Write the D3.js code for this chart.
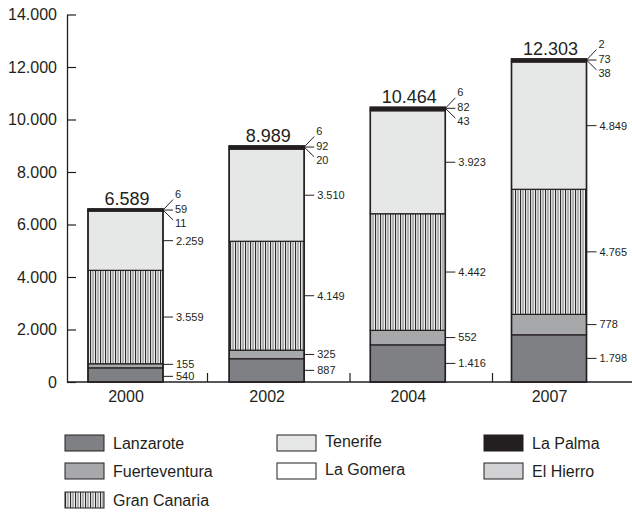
<!DOCTYPE html>
<html>
<head>
<meta charset="utf-8">
<script src="https://cdn.jsdelivr.net/npm/d3@7/dist/d3.min.js"></script>
<style>
  html, body { margin: 0; padding: 0; background: #fff; }
  svg { display: block; font-family: "Liberation Sans", Arial, Helvetica, sans-serif; }
</style>
</head>
<body>
<svg id="chart" width="632" height="514"></svg>
<script>
// Visitors per island and year (stacked from the bottom up)
const years = ["2000", "2002", "2004", "2007"];
const islands = ["Lanzarote", "Fuerteventura", "Gran Canaria", "Tenerife", "La Gomera", "La Palma", "El Hierro"];
const lanzarote     = [540, 887, 1416, 1798];
const fuerteventura = [155, 325, 552, 778];
const granCanaria   = [3559, 4149, 4442, 4765];
const tenerife      = [2259, 3510, 3923, 4849];
const laGomera      = [11, 20, 43, 38];
const laPalma       = [59, 92, 82, 73];
const elHierro      = [6, 6, 6, 2];
const yTicks = [0, 2000, 4000, 6000, 8000, 10000, 12000, 14000];

const seriesValues = [lanzarote, fuerteventura, granCanaria, tenerife, laGomera, laPalma, elHierro];
const fills = ["#7f8083", "#a7a8aa", "url(#stripes)", "#e6e7e7", "#ffffff", "#231f20", "#d1d2d3"];
const ink = "#231f20";

const fmt = v => d3.format(",")(v).replace(/,/g, ".");

const rows = years.map((yr, i) => {
  const r = { year: yr };
  islands.forEach((isl, k) => r[isl] = seriesValues[k][i]);
  return r;
});
const stacked = d3.stack().keys(islands)(rows);

const svg = d3.select("#chart");

// vertical hatching for Gran Canaria
const defs = svg.append("defs");
const pat = defs.append("pattern").attr("id", "stripes")
  .attr("patternUnits", "userSpaceOnUse").attr("width", 5).attr("height", 10);
pat.append("rect").attr("width", 5).attr("height", 10).attr("fill", "#eeeeee");
pat.append("rect").attr("x", 0).attr("width", 1.1).attr("height", 10).attr("fill", "#2a2a2a");
pat.append("rect").attr("x", 2).attr("width", 2).attr("height", 10).attr("fill", "#b3b3b3");

const y = d3.scaleLinear().domain([0, 14000]).range([382, 14.5]);
const xC = d3.scalePoint().domain(years).range([125.5, 549]);   // bar centres
const xSep = d3.scaleBand().domain(years).range([65, 635]);      // category slots
const barW = 75;
const axisX = 67;

// y axis
const yAxis = svg.append("g").attr("transform", `translate(${axisX},0)`)
  .call(d3.axisLeft(y).tickValues(yTicks).tickFormat(fmt).tickSizeInner(-9).tickSizeOuter(0).tickPadding(10));
yAxis.select(".domain").attr("stroke", ink).attr("stroke-width", 1.3);
yAxis.selectAll(".tick line").attr("stroke", ink).attr("stroke-width", 1.2);
yAxis.selectAll(".tick text").attr("font-size", 16).attr("fill", ink)
  .attr("font-family", "'Liberation Sans', Arial, sans-serif");

// baseline and slot separators
svg.append("line").attr("x1", axisX).attr("x2", 632).attr("y1", y(0)).attr("y2", y(0))
  .attr("stroke", ink).attr("stroke-width", 1.3);
svg.selectAll("line.sep").data(years.slice(1)).join("line").attr("class", "sep")
  .attr("x1", d => xSep(d)).attr("x2", d => xSep(d))
  .attr("y1", y(0)).attr("y2", y(0) - 9).attr("stroke", ink).attr("stroke-width", 1.2);

// category labels
const xAxis = svg.append("g").attr("transform", `translate(0,${y(0)})`)
  .call(d3.axisBottom(xC).tickSize(0).tickPadding(9));
xAxis.select(".domain").remove();
xAxis.selectAll(".tick text").attr("font-size", 16).attr("fill", ink)
  .attr("font-family", "'Liberation Sans', Arial, sans-serif");

// stacked segments
stacked.forEach((layer, k) => {
  svg.append("g").selectAll("rect").data(layer).join("rect")
    .attr("x", d => xC(d.data.year) - barW / 2)
    .attr("width", barW)
    .attr("y", d => y(d[1]))
    .attr("height", d => y(d[0]) - y(d[1]))
    .attr("fill", fills[k])
    .attr("stroke", ink).attr("stroke-width", 1.2);
});

// bar outlines
svg.append("g").selectAll("rect").data(years).join("rect")
  .attr("x", d => xC(d) - barW / 2).attr("width", barW)
  .attr("y", (d, i) => y(stacked[islands.length - 1][i][1]))
  .attr("height", (d, i) => y(0) - y(stacked[islands.length - 1][i][1]))
  .attr("fill", "none").attr("stroke", ink).attr("stroke-width", 1.5);

// totals above bars
svg.append("g").selectAll("text").data(years).join("text")
  .attr("x", d => xC(d) + 1.5)
  .attr("y", (d, i) => y(stacked[islands.length - 1][i][1]) - 4)
  .attr("text-anchor", "middle").attr("font-size", 18).attr("fill", ink)
  .text((d, i) => fmt(stacked[islands.length - 1][i][1]));

// value labels with leader lines
const lab = svg.append("g").attr("font-size", 11).attr("fill", ink);
const minGap = 12;
years.forEach((yr, i) => {
  const xr = xC(yr) + barW / 2;
  // four big segments: label at segment middle, spread apart when too close
  const pos = [0, 1, 2, 3].map(k => (y(stacked[k][i][0]) + y(stacked[k][i][1])) / 2);
  for (let k = 0; k < 3; k++) {
    const gap = pos[k] - pos[k + 1];
    if (gap < minGap) {
      const shift = (minGap - gap) / 2;
      pos[k] += shift;
      pos[k + 1] -= shift;
    }
  }
  pos.forEach((ym, k) => {
    lab.append("line").attr("x1", xr).attr("x2", xr + 10).attr("y1", ym).attr("y2", ym)
      .attr("stroke", ink).attr("stroke-width", 1);
    lab.append("text").attr("x", xr + 13).attr("y", ym).attr("dy", "0.35em")
      .text(fmt(seriesValues[k][i]));
  });
  // three thin top segments: fan out from the top corner
  const top = y(stacked[islands.length - 1][i][1]);
  const fan = [[4, 14], [5, 0], [6, -15]];
  fan.forEach(([k, off]) => {
    lab.append("line").attr("x1", xr).attr("y1", top + 1)
      .attr("x2", xr + 10).attr("y2", top + 1 + off * 0.7)
      .attr("stroke", ink).attr("stroke-width", 1);
    lab.append("text").attr("x", xr + 12).attr("y", top + off).attr("dy", "0.35em")
      .text(fmt(seriesValues[k][i]));
  });
});

// legend
const legendCols = [
  { x: 65, items: [0, 1, 2], dy: 0 },
  { x: 277, items: [3, 4], dy: -2 },
  { x: 484, items: [5, 6], dy: 0 }
];
const rowY = [435, 463, 492];
const leg = svg.append("g");
legendCols.forEach(col => {
  col.items.forEach((k, r) => {
    leg.append("rect").attr("x", col.x).attr("y", rowY[r]).attr("width", 39).attr("height", 16)
      .attr("fill", fills[k]).attr("stroke", ink).attr("stroke-width", 1);
    leg.append("text").attr("x", col.x + 48).attr("y", rowY[r] + 8 + col.dy).attr("dy", "0.38em")
      .attr("font-size", 16).attr("fill", ink).text(islands[k]);
  });
});
</script>
</body>
</html>
